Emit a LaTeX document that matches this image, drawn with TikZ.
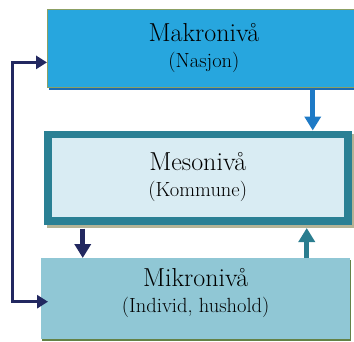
\documentclass[tikz,border=0pt]{standalone}
\usepackage{amsmath}
\usetikzlibrary{arrows.meta,shadows}
\definecolor{makrofill}{RGB}{39,166,222}
\definecolor{makroline}{RGB}{140,160,100}
\definecolor{makroshadow}{RGB}{28,108,180}
\definecolor{mesoline}{RGB}{42,128,148}
\definecolor{mesofill}{RGB}{217,236,243}
\definecolor{mesoshadow}{RGB}{180,180,150}
\definecolor{mikrofill}{RGB}{144,199,213}
\definecolor{mikroshadow}{RGB}{100,130,70}
\definecolor{navy}{RGB}{34,40,96}
\definecolor{arrblue}{RGB}{30,122,198}
\definecolor{arrteal}{RGB}{42,125,143}
\newcommand{\nivasub}[1]{{\fontsize{20.5}{24}\selectfont #1}}

\begin{document}
\begin{tikzpicture}[x=1pt,y=-1pt,
  lvl/.style={rectangle,inner sep=0pt,align=center,anchor=north west,
    text=black,font=\fontsize{26}{26}\selectfont},
  pil/.style={line width=5pt,-{Triangle[length=14pt,width=16pt]}}]
\useasboundingbox (0,0) rectangle (354,341);
\node[lvl,minimum width=313pt,minimum height=78pt,fill=makrofill,draw=makroline,line width=0.8pt,
  drop shadow={shadow xshift=2pt,shadow yshift=-3pt,fill=makroshadow,opacity=1}]
  (makro) at (47,9) {Makronivå\\\nivasub{(Nasjon)}};
\node[lvl,minimum width=300pt,minimum height=86.5pt,fill=mesofill,draw=mesoline,line width=7.5pt,
  drop shadow={shadow xshift=3pt,shadow yshift=-3pt,fill=mesoshadow,draw=mesoshadow,opacity=1}]
  (meso) at (44,130.5) {Mesonivå\\\nivasub{(Kommune)}};
\node[lvl,minimum width=309pt,minimum height=81pt,fill=mikrofill,
  drop shadow={shadow xshift=1pt,shadow yshift=-2pt,fill=mikroshadow,opacity=1}]
  (mikro) at (41,258) {Mikronivå\\\nivasub{(Individ, hushold)\rule[-16pt]{0pt}{0pt}}};
\path[pil]
([xshift=115pt]meso.north |- makro.south) edge[arrblue,shorten <=2pt] ([xshift=115pt]meso.north)
([xshift=-115pt]meso.south) edge[navy,shorten <=4pt] ([xshift=-115pt]meso.south |- mikro.north)
([xshift=109pt]meso.south |- mikro.north) edge[arrteal,shorten >=3.5pt] ([xshift=109pt]meso.south)
;
\draw[navy,line width=3pt,{Triangle[length=11pt,width=13pt]}-{Triangle[length=11pt,width=13pt]}]
  ([yshift=-14pt]makro.west) -- ++(-35,0) |- ([xshift=7pt,yshift=-3pt]mikro.west);
\end{tikzpicture}
\end{document}
